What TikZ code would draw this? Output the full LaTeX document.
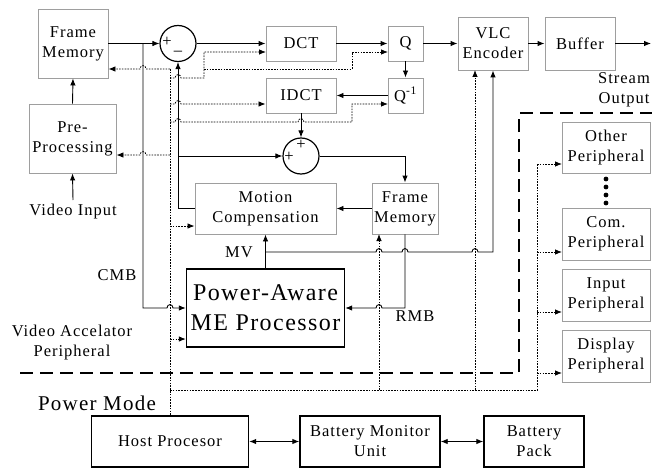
\documentclass[tikz,border=0pt]{standalone}
\usepackage{fontspec}
\setmainfont{Liberation Serif}[LetterSpace=6]
\usetikzlibrary{arrows.meta,calc}
\newcommand\hopR[2]{-- (#1-3,#2) .. controls (#1-3,#2-4.5) and (#1+3,#2-4.5) .. (#1+3,#2)}
\newcommand\hopL[2]{-- (#1+3,#2) .. controls (#1+3,#2-4.5) and (#1-3,#2-4.5) .. (#1-3,#2)}
\begin{document}
\begin{tikzpicture}[x=1pt,y=-1pt,
  txt/.style={font=\fontsize{16.5}{20}\selectfont},
  gbox/.style={txt,draw=black!38,line width=0.9pt,align=center,inner sep=0pt},
  bbox/.style={txt,draw=black,line width=1.4pt,align=center,inner sep=0pt},
  sumc/.style={draw=black,circle,line width=1.2pt,minimum size=36pt,inner sep=0pt},
  ln/.style={line width=0.9pt},
  arr/.style={ln,-{Latex[length=7pt,width=5.5pt]}},
  dot/.style={line width=0.8pt,dash pattern=on 1.6pt off 1.2pt},
  darr/.style={dot,-{Latex[length=7pt,width=5.5pt]}},
  bigdash/.style={line width=1.8pt,dash pattern=on 13pt off 7pt},
  lbl/.style={txt,inner sep=0pt,align=center}]
\useasboundingbox (0,0) rectangle (652,468);
\fill[white] (0,0) rectangle (652,468);

% gray boxes
\node[gbox,minimum width=70pt,minimum height=69pt] (fm1) at (73,43.5) {Frame\\Memory};
\node[gbox,minimum width=87pt,minimum height=69pt] (pre) at (72.5,138.5) {Pre-\\Processing};
\node[gbox,minimum width=70pt,minimum height=35pt] (dct) at (301,43.5) {DCT};
\node[gbox,minimum width=70pt,minimum height=35pt] (idct) at (301,95.5) {IDCT};
\node[gbox,minimum width=35pt,minimum height=35pt] (q) at (405.5,43.5) {Q};
\node[gbox,minimum width=35pt,minimum height=35pt] (qi) at (405.5,95.5) {Q\textsuperscript{-1}};
\node[gbox,minimum width=70pt,minimum height=53pt] (vlc) at (493,43.5) {VLC\\Encoder};
\node[gbox,minimum width=70pt,minimum height=53pt] (buf) at (580,43.5) {Buffer};
\node[gbox,minimum width=141pt,minimum height=51pt] (mc) at (265.5,208.5) {Motion\\Compensation};
\node[gbox,minimum width=66pt,minimum height=51pt] (fm2) at (405,208.5) {Frame\\Memory};
\node[gbox,minimum width=88pt,minimum height=51pt] (other) at (606,147.5) {Other\\Peripheral};
\node[gbox,minimum width=88pt,minimum height=52pt] (com) at (606,234) {Com.\\Peripheral};
\node[gbox,minimum width=88pt,minimum height=52pt] (inp) at (606,295) {Input\\Peripheral};
\node[gbox,minimum width=88pt,minimum height=52pt] (disp) at (606,356) {Display\\Peripheral};

% black boxes
\node[bbox,minimum width=158pt,minimum height=78pt,font=\fontsize{24}{30}\selectfont] (me) at (265.5,308) {Power-Aware\\ME Processor};
\node[bbox,minimum width=157pt,minimum height=51pt] (host) at (170,441.5) {Host Procesor};
\node[bbox,minimum width=140pt,minimum height=51pt] (bmu) at (370,441.5) {Battery Monitor\\Unit};
\node[bbox,minimum width=100pt,minimum height=51pt] (pack) at (534,441.5) {Battery\\Pack};

% summing junctions
\node[sumc] (sub) at (178,43.5) {};
\node[sumc] (add) at (301,156) {};
\node[lbl] at (167,42) {+};
\node[lbl] at (178,53) {\textendash};
\node[lbl] at (289,157) {+};
\node[lbl] at (301,145) {+};

% labels
\node[lbl] (vin) at (73,212) {Video Input};
\node[lbl] (cmb) at (117,275) {CMB};
\node[lbl] (mv) at (239,252) {MV};
\node[lbl] (rmb) at (415,316) {RMB};
\node[lbl] (sout) at (624,90) {Stream\\Output};
\node[lbl] (vap) at (72,343) {Video Accelator\\Peripheral};
\node[lbl,font=\fontsize{21}{26}\selectfont] (pm) at (97,403) {Power Mode};

% dots between peripherals
\foreach \yy in {179,187,195,203} \fill (606,\yy) circle (2.4pt);

% coordinates
\coordinate (out) at (651,43.5);
\coordinate (b69) at (170,69);
\coordinate (b78) at (170,78);
\coordinate (b104) at (170,104);
\coordinate (b122) at (170,122);
\coordinate (b155) at (170,155);
\coordinate (b226) at (170,226);
\coordinate (b339) at (170,339);
\coordinate (b390) at (170,390);
\coordinate (r390) at (537,390);

% solid connectors
\draw[arr] (fm1.east) -- (sub.west);
\draw[arr] (sub.east) -- (dct.west);
\draw[arr] (dct.east) -- (q.west);
\draw[arr] (q.east) -- (vlc.west);
\draw[arr] (vlc.east) -- (buf.west);
\draw[arr] (buf.east) -- (out);
\draw[arr] (q.south) -- (qi.north);
\draw[arr] (qi.west) -- (idct.east);
\draw[arr] (idct.south) -- (add.north);
\draw[arr] (pre.north) -- (fm1.south);
\draw[arr] (73,200) -- (pre.south);
\draw[arr] (143,43.5) -- (143,308) \hopR{170}{308} -- (me.west);
\draw[arr] (mc.west) -- (178,208.5) -- (sub.south);
\draw[arr] (178,156) -- (add.west);
\draw[arr] (fm2.west) -- (mc.east);
\draw[arr] (add.east) -- (405,156) -- (fm2.north);
\draw[arr] (me.north) -- (mc.south);
\draw[arr] (265.5,252) \hopR{379}{252} \hopR{405}{252} \hopR{475}{252} -- (493,252) -- (vlc.south);
\draw[arr] (fm2.south) -- (405,308) \hopL{379}{308} -- (me.east);
\draw[ln,{Latex[length=7pt,width=5.5pt]}-{Latex[length=7pt,width=5.5pt]}] (host.east) -- (bmu.west);
\draw[ln,{Latex[length=7pt,width=5.5pt]}-{Latex[length=7pt,width=5.5pt]}] (bmu.east) -- (pack.west);

% dotted control bus
\draw[dot] (b69) -- (host.north);
\draw[dot] (b390) -- (r390) -- (537,164);
\draw[darr] (b69) \hopL{143}{69} -- (fm1.east |- b69);
\draw[darr] (b78) \hopR{178}{78} -- (204,78) -- (204,52) -- (266,52);
\draw[darr] (204,69) -- (352,69) -- (352,52) -- (388,52);
\draw[darr] (b104) \hopR{178}{104} -- (idct.west |- b104);
\draw[darr] (b122) \hopR{178}{122} \hopR{301}{122} -- (352,122) -- (352,104) -- (388,104);
\draw[darr] (b155) \hopL{143}{155} -- (pre.east |- b155);
\draw[darr] (b226) -- (mc.west |- b226);
\draw[darr] (b339) -- (me.west |- b339);
\draw[darr] (379,390) -- (379,234);
\draw[darr] (475,390) -- (475,70);
\draw[darr] (537,164) -- (562,164);
\draw[darr] (537,252) -- (562,252);
\draw[darr] (537,312) -- (562,312);
\draw[darr] (537,373) -- (562,373);

% big dashed boundary
\draw[bigdash] (20,373) -- (519,373) -- (519,113) -- (652,113);
\end{tikzpicture}
\end{document}
